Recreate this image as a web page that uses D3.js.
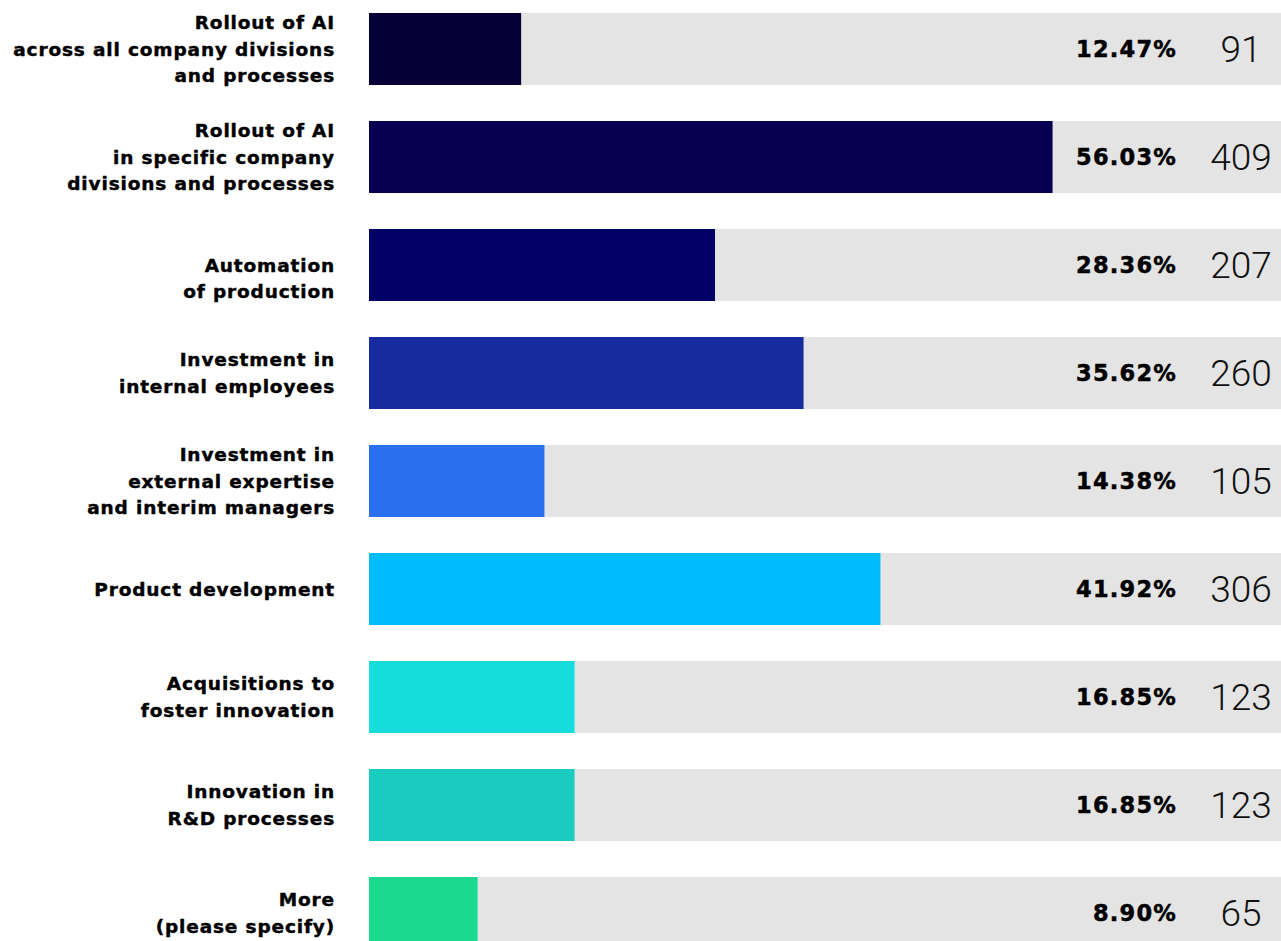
<!DOCTYPE html>
<html>
<head>
<meta charset="utf-8">
<script src="https://cdn.jsdelivr.net/npm/d3@7"></script>
<style>
  html, body { margin: 0; padding: 0; background: #ffffff; overflow: hidden; }
  svg { display: block; }
</style>
</head>
<body>
<svg id="chart" width="1281" height="941"></svg>
<script>
// Categories (label lines), shares and response counts
const categories = [
  ["Rollout of AI", "across all company divisions", "and processes"],
  ["Rollout of AI", "in specific company", "divisions and processes"],
  ["", "Automation", "of production"],
  ["Investment in", "internal employees"],
  ["Investment in", "external expertise", "and interim managers"],
  ["Product development"],
  ["Acquisitions to", "foster innovation"],
  ["Innovation in", "R&D processes"],
  ["More", "(please specify)"]
];
const shares = [12.47, 56.03, 28.36, 35.62, 14.38, 41.92, 16.85, 16.85, 8.90];
const counts = [91, 409, 207, 260, 105, 306, 123, 123, 65];
const barColors = ["#070038", "#050050", "#030066", "#172b9e", "#2a6ff0",
                   "#00bcfc", "#16dcdc", "#1acbbf", "#1bd98d"];

const svg = d3.select("#chart");
const left = 369;
const step = 108, h = 72;
const x = d3.scaleLinear().domain([0, 100]).range([0, 1220]);
const y = d3.scaleBand().domain(d3.range(categories.length))
  .range([13, 13 + step * categories.length - (step - h)])
  .paddingInner((step - h) / step).paddingOuter(0);

const rows = svg.selectAll("g.row").data(categories).join("g")
  .attr("class", "row")
  .attr("transform", (d, i) => `translate(0,${y(i)})`);

// background track
rows.append("rect")
  .attr("x", left).attr("y", 0)
  .attr("width", x(100)).attr("height", y.bandwidth())
  .attr("fill", "#e4e4e4");

// value bar
rows.append("rect")
  .attr("x", left).attr("y", 0)
  .attr("width", (d, i) => x(shares[i])).attr("height", y.bandwidth())
  .attr("fill", (d, i) => barColors[i]);

// category label, right aligned and vertically centred on the bar
const lineH = 26.5;
rows.append("text")
  .attr("text-anchor", "end")
  .attr("font-family", "'DejaVu Sans', 'Liberation Sans', sans-serif")
  .attr("font-weight", "bold")
  .attr("font-size", 18.5)
  .attr("letter-spacing", 0.85)
  .attr("fill", "#000")
  .attr("stroke", "#000")
  .attr("stroke-width", 0.45)
  .each(function(lines) {
    const t = d3.select(this);
    const start = y.bandwidth() / 2 - (lines.length - 1) * lineH / 2;
    lines.forEach((ln, k) => {
      t.append("tspan")
        .attr("x", 335)
        .attr("y", start + k * lineH)
        .attr("dy", "0.36em")
        .text(ln);
    });
  });

// percentage label
rows.append("text")
  .attr("x", 1177).attr("y", y.bandwidth() / 2).attr("dy", "0.36em")
  .attr("text-anchor", "end")
  .attr("font-family", "'DejaVu Sans', 'Liberation Sans', sans-serif")
  .attr("font-weight", "bold")
  .attr("font-size", 22.5)
  .attr("letter-spacing", 1.2)
  .attr("fill", "#000")
  .attr("stroke", "#000")
  .attr("stroke-width", 0.5)
  .text((d, i) => shares[i].toFixed(2) + "%");

// response count
rows.append("text")
  .attr("x", 1241).attr("y", y.bandwidth() / 2).attr("dy", "0.36em")
  .attr("text-anchor", "middle")
  .attr("font-family", "Roboto, 'Liberation Sans', sans-serif")
  .attr("font-weight", 300)
  .attr("font-size", 37)
  .attr("fill", "#111")
  .text((d, i) => counts[i]);
</script>
</body>
</html>
